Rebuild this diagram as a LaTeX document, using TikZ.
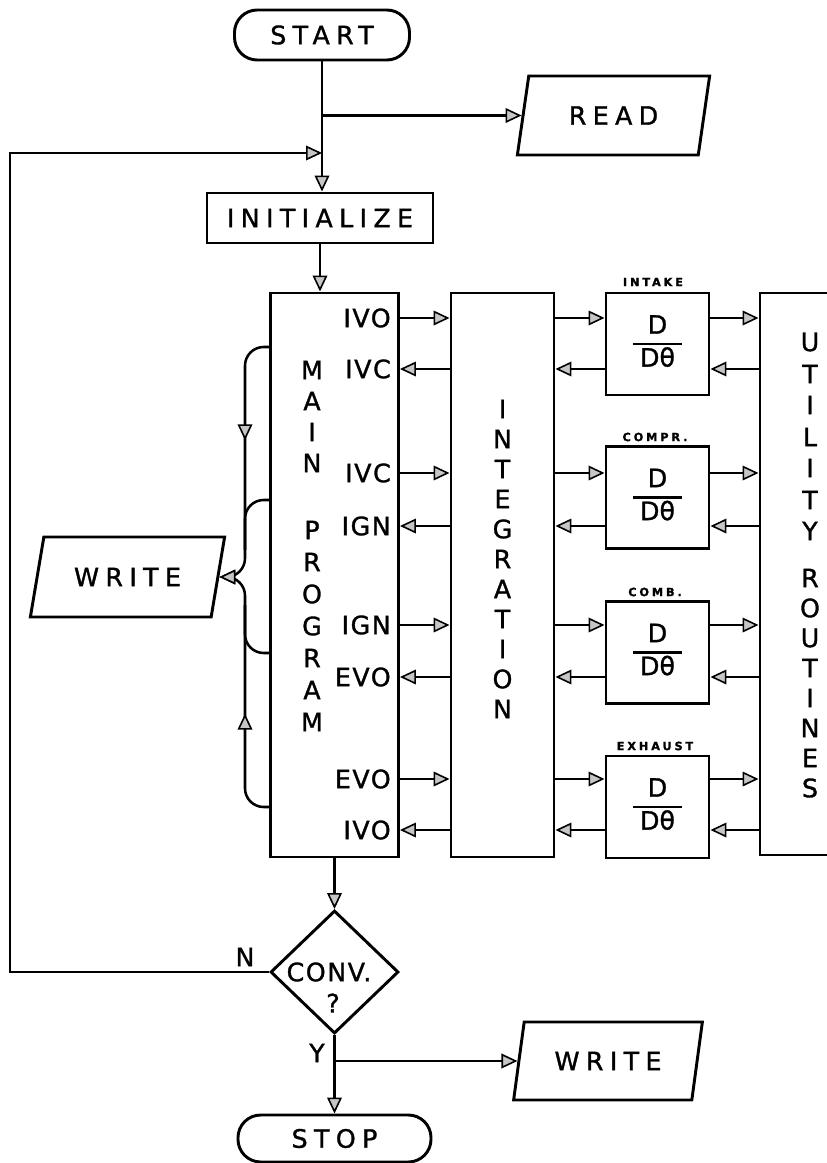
\documentclass[tikz,border=0pt]{standalone}
\usepackage{fontspec}
\setmainfont{DejaVu Sans}[LetterSpace=25,FakeBold=1.2]
\newfontfamily\tightfont{DejaVu Sans}[LetterSpace=6,FakeBold=1.2]
\newfontfamily\fracfont{DejaVu Sans}[FakeBold=1.2]
\usetikzlibrary{shapes.geometric,arrows.meta,decorations.markings}
\begin{document}
\begin{tikzpicture}[x=0.75pt,y=-0.75pt,
  every node/.style={font=\fontsize{19}{22}\selectfont, inner sep=0pt},
  line/.style={line width=1.9pt},
  box/.style={draw, line width=2.2pt},
  term/.style={box, rounded corners=17pt},
  io/.style={box, trapezium, trapezium stretches=true},
  arr/.style={line, -{Triangle[length=12pt,width=11pt,fill=gray!45,line width=1.2pt]}},
  midarr/.style={postaction={decorate}, decoration={markings, mark=at position #1 with {\arrow[line width=1.2pt]{Triangle[length=12pt,width=11pt,fill=gray!45]}}}},
  tiny/.style={font=\fontsize{8.5}{9}\selectfont\bfseries},
  col/.style={font=\fontsize{19}{22}\selectfont},
  lab/.style={anchor=east, font=\fontsize{19}{22}\tightfont}
]
\useasboundingbox (0,0) rectangle (827,1163);
\clip (0,0) rectangle (827,1163);

% main column
\node[term, minimum width=175*0.75pt, minimum height=50*0.75pt] (start) at (322,35) {START};
\node[io, trapezium left angle=72, trapezium right angle=108, minimum width=193*0.75pt, minimum height=79*0.75pt] (read) at (613.5,115.5) {READ};
\node[box, minimum width=226*0.75pt, minimum height=50*0.75pt] (init) at (320,218) {INITIALIZE};
\node[box, minimum width=128*0.75pt, minimum height=564*0.75pt] (main) at (334.5,575) {};
\node[box, minimum width=103*0.75pt, minimum height=564*0.75pt] (integ) at (502.5,575) {};
\node[box, minimum width=140*0.75pt, minimum height=562*0.75pt] (util) at (830,574) {};

\foreach \n/\c in {1/344,2/497.5,3/652.5,4/807}{
  \node[box, minimum width=103*0.75pt, minimum height=102*0.75pt, font=\fontsize{19}{22}\fracfont] (d\n) at (657.5,\c)
    {\setlength{\tabcolsep}{5pt}\setlength{\arrayrulewidth}{1.6pt}\renewcommand{\arraystretch}{1.05}\begin{tabular}{c}D\\\hline Dθ\end{tabular}};
}
\node[tiny] (lint) at (653,282) {INTAKE};
\node[tiny] (lcmp) at (655,437) {COMPR.};
\node[tiny] (lcmb) at (655,592) {COMB.};
\node[tiny] (lexh) at (655,746) {EXHAUST};

% vertical words
\foreach \ch [count=\i] /\yy in {M/370,A/401,I/432,N/463,P/530,R/562,O/594,G/626,R/658,A/690,M/722}{
  \node[col] (mp\i) at (312,\yy) {\ch};
}
\foreach \ch [count=\i] /\yy in {I/409,N/439,T/469,E/499,G/529,R/559,A/589,T/619,I/649,O/679,N/709}{
  \node[col] (in\i) at (502.5,\yy) {\ch};
}
\foreach \ch [count=\i] /\yy in {U/342,T/374,I/405,L/437,I/468,T/500,Y/531,R/578,O/608,U/638,T/668,I/698,N/728,E/758,S/788}{
  \node[col] (ut\i) at (810,\yy) {\ch};
}

% labels inside main program box
\node[lab] (a1) at (391,318) {IVO};
\node[lab] (a2) at (391,369) {IVC};
\node[lab] (a3) at (391,473) {IVC};
\node[lab] (a4) at (391,526) {IGN};
\node[lab] (a5) at (391,625) {IGN};
\node[lab] (a6) at (391,677) {EVO};
\node[lab] (a7) at (391,779) {EVO};
\node[lab] (a8) at (391,830) {IVO};

% connectors between columns
\foreach \n/\ya/\yb in {1/318/369,2/473/526,3/625/677,4/779/830}{
  \draw[arr] (main.east |- 0,\ya) -- (integ.west |- 0,\ya);
  \draw[arr] (integ.west |- 0,\yb) -- (main.east |- 0,\yb);
  \draw[arr] (integ.east |- 0,\ya) -- (d\n.west |- 0,\ya);
  \draw[arr] (d\n.west |- 0,\yb) -- (integ.east |- 0,\yb);
  \draw[arr] (d\n.east |- 0,\ya) -- (util.west |- 0,\ya);
  \draw[arr] (util.west |- 0,\yb) -- (d\n.east |- 0,\yb);
}

% WRITE on the left and brace
\node[io, trapezium left angle=65, trapezium right angle=115, minimum width=195*0.75pt, minimum height=80*0.75pt] (write1) at (127.5,577) {WRITE};
\draw[arr, rounded corners=14pt, midarr=82pt] (main.west |- 0,347) -| (245,577) -- (write1);
\draw[arr, rounded corners=14pt, midarr=82pt] (main.west |- 0,807) -| (245,577) -- (write1);
\draw[line, rounded corners=14pt] (main.west |- 0,500) -| (245,550);
\draw[line, rounded corners=14pt] (main.west |- 0,653) -| (245,605);

% bottom part
\node[box, diamond, minimum width=128*0.75pt, minimum height=123*0.75pt] (conv) at (334.5,972) {};
\node[font=\fontsize{19}{22}\tightfont] (convt) at (329,972) {CONV.};
\node (convq) at (333,1003) {?};
\node[io, trapezium left angle=70, trapezium right angle=110, minimum width=190*0.75pt, minimum height=78*0.75pt] (write2) at (608,1061) {WRITE};
\node[term, minimum width=193*0.75pt, minimum height=47*0.75pt] (stop) at (334.5,1138.5) {STOP};
\node (ln) at (245,957) {N};
\node (ly) at (317,1053) {Y};

% flow connectors
\coordinate (jread) at (start.south |- read);
\coordinate (jloop) at (start.south |- 0,153);
\coordinate (jy) at (conv.south |- write2);
\draw[line] (start.south) -- (jread);
\draw[arr] (jread) -- (read);
\draw[arr] (jread) -- (start.south |- init.north);
\draw[arr] (conv.west) -| (10,153) -- (jloop);
\draw[arr] (init.south) -- (init.south |- main.north);
\draw[arr] (main.south) -- (conv.north);
\draw[arr] (conv.south) -- (stop.north);
\draw[arr] (jy) -- (write2);
\end{tikzpicture}
\end{document}
